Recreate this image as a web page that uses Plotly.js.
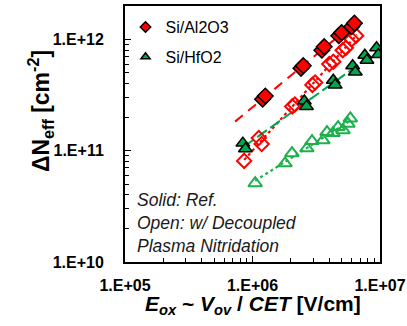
<!DOCTYPE html>
<html>
<head>
<meta charset="utf-8">
<script src="https://cdn.plot.ly/plotly-3.0.1.min.js"></script>
<style>html,body{margin:0;padding:0;background:#fff;}#chart{width:407px;height:326px;}</style>
</head>
<body>
<div id="chart"></div>
<script>
// ---- Data ----
const alSolidX = [1.20e6, 1.26e6, 2.40e6, 2.50e6, 3.50e6, 3.65e6, 4.75e6, 5.0e6, 6.0e6, 6.3e6];
const alSolidY = [2.9e11, 3.1e11, 5.5e11, 5.8e11, 8.0e11, 8.6e11, 1.08e12, 1.15e12, 1.30e12, 1.40e12];

const alOpenX = [8.6e5, 1.12e6, 1.18e6, 2.05e6, 2.15e6, 2.95e6, 3.1e6, 4.0e6, 4.3e6, 5.1e6, 5.4e6, 6.0e6, 6.5e6];
const alOpenY = [8.1e10, 1.30e11, 1.15e11, 2.5e11, 2.6e11, 3.9e11, 4.1e11, 6.0e11, 6.3e11, 8.0e11, 8.4e11, 1.0e12, 1.08e12];

const hfSolidX = [8.4e5, 8.8e5, 2.55e6, 2.65e6, 4.3e6, 4.45e6, 6.1e6, 6.4e6, 7.6e6, 7.9e6, 9.4e6, 9.7e6];
const hfSolidY = [1.17e11, 1.04e11, 2.8e11, 2.5e11, 4.3e11, 3.9e11, 5.8e11, 5.1e11, 7.2e11, 6.5e11, 8.4e11, 7.3e11];

const hfOpenX = [1.05e6, 1.80e6, 2.04e6, 2.67e6, 2.93e6, 3.57e6, 3.84e6, 4.28e6, 4.69e6, 5.13e6, 5.6e6, 5.85e6];
const hfOpenY = [5.1e10, 7.7e10, 9.5e10, 1.05e11, 1.22e11, 1.24e11, 1.47e11, 1.44e11, 1.63e11, 1.53e11, 1.75e11, 1.95e11];

// x-extent of each power-law trend line
const alSolidFitX = [7.3e5, 6.6e6];
const alOpenFitX = [8.6e5, 6.6e6];
const hfSolidFitX = [8.6e5, 7.5e6];
const hfOpenFitX = [1.05e6, 5.9e6];

const seriesNames = ['Si/Al2O3', 'Si/HfO2'];
const xTickVals = [1e5, 1e6, 1e7];
const xTickText = ['1.E+05', '1.E+06', '1.E+07'];
const yTickVals = [1e10, 1e11, 1e12];
const yTickText = ['1.E+10', '1.E+11', '1.E+12'];
const xTitle = '<b><i>E<sub>ox</sub></i> ~ <i>V<sub>ov</sub></i> / <i>CET</i> [V/cm]</b>';
const yTitle = '<b>ΔN<sub>eff</sub> [cm<sup>-2</sup>]</b>';
const noteText = 'Solid: Ref.<br>Open: w/ Decoupled<br>Plasma Nitridation';

// ---- power-law fit in log-log space ----
function fitLine(xs, ys, ext) {
  const lx = xs.map(Math.log10), ly = ys.map(Math.log10);
  const n = lx.length;
  const mx = lx.reduce((a, b) => a + b, 0) / n, my = ly.reduce((a, b) => a + b, 0) / n;
  let sxy = 0, sxx = 0;
  for (let i = 0; i < n; i++) { sxy += (lx[i] - mx) * (ly[i] - my); sxx += (lx[i] - mx) ** 2; }
  const b = sxy / sxx, a = my - b * mx;
  return { x: ext, y: ext.map(v => Math.pow(10, a + b * Math.log10(v))) };
}

const RED = '#FF0000', GREEN = '#00A650', GREEN_OPEN = '#1DB04B';
const FONT = 'Arial, "Liberation Sans", sans-serif';

const fA = fitLine(alSolidX, alSolidY, alSolidFitX);
const fAo = fitLine(alOpenX, alOpenY, alOpenFitX);
const fH = fitLine(hfSolidX, hfSolidY, hfSolidFitX);
const fHo = fitLine(hfOpenX, hfOpenY, hfOpenFitX);

const traces = [
  { x: fA.x, y: fA.y, mode: 'lines', line: { color: RED, width: 2, dash: '10px,7px' }, showlegend: false, hoverinfo: 'skip' },
  { x: fAo.x, y: fAo.y, mode: 'lines', line: { color: RED, width: 2.2, dash: 'dot' }, showlegend: false, hoverinfo: 'skip' },
  { x: fH.x, y: fH.y, mode: 'lines', line: { color: GREEN, width: 2, dash: '12px,4px' }, showlegend: false, hoverinfo: 'skip' },
  { x: fHo.x, y: fHo.y, mode: 'lines', line: { color: GREEN_OPEN, width: 2.2, dash: 'dot' }, showlegend: false, hoverinfo: 'skip' },
  { x: alOpenX, y: alOpenY, mode: 'markers', showlegend: false,
    marker: { symbol: 'diamond-open', size: 11, color: RED, line: { color: RED, width: 2 } } },
  { x: hfOpenX, y: hfOpenY, mode: 'markers', showlegend: false,
    marker: { symbol: 'triangle-up-open', size: 12, color: GREEN_OPEN, line: { color: GREEN_OPEN, width: 2 } } },
  { x: alSolidX, y: alSolidY, mode: 'markers', showlegend: false,
    marker: { symbol: 'diamond', size: 12, color: RED, line: { color: '#000', width: 1.5 } } },
  { x: hfSolidX, y: hfSolidY, mode: 'markers', showlegend: false,
    marker: { symbol: 'triangle-up', size: 12, color: GREEN, line: { color: '#000', width: 1.5 } } },
  // legend entries (smaller legend symbols, no plotted marks)
  { x: [null], y: [null], mode: 'markers', name: seriesNames[0], legendgroup: 'a',
    marker: { symbol: 'diamond', size: 8, color: RED, line: { color: '#000', width: 1.5 } } },
  { x: [null], y: [null], mode: 'markers', name: seriesNames[1], legendgroup: 'h',
    marker: { symbol: 'triangle-up', size: 8, color: GREEN, line: { color: '#000', width: 1.5 } } }
];

const layout = {
  width: 407, height: 326,
  margin: { l: 125, r: 27, t: 6, b: 64, pad: 0 },
  paper_bgcolor: '#fff', plot_bgcolor: '#fff',
  font: { family: FONT, color: '#000' },
  showlegend: true,
  legend: { x: 0.002, y: 0.984, xanchor: 'left', yanchor: 'top', bgcolor: 'rgba(0,0,0,0)',
    font: { size: 16, family: FONT }, tracegroupgap: 6, itemwidth: 30 },
  xaxis: {
    type: 'log', range: [5, 7],
    tickvals: xTickVals, ticktext: xTickText,
    ticks: 'inside', ticklen: 6, tickwidth: 1.2, tickcolor: '#000',
    minor: { ticks: 'inside', ticklen: 4, tickwidth: 1, tickcolor: '#000', dtick: 'D1' },
    showline: true, linecolor: '#000', linewidth: 2, mirror: true,
    showgrid: false, zeroline: false, ticklabelstandoff: 8,
    tickfont: { size: 16, family: FONT, weight: 'bold' }
  },
  yaxis: {
    type: 'log', range: [10, 12.3],
    tickvals: yTickVals, ticktext: yTickText,
    ticks: 'inside', ticklen: 6, tickwidth: 1.2, tickcolor: '#000',
    minor: { ticks: 'inside', ticklen: 4, tickwidth: 1, tickcolor: '#000', dtick: 'D1' },
    showline: true, linecolor: '#000', linewidth: 2, mirror: true,
    showgrid: false, zeroline: false, ticklabelstandoff: 16,
    tickfont: { size: 16, family: FONT, weight: 'bold' }
  },
  annotations: [
    { xref: 'paper', yref: 'paper', x: 0.04, y: 0.152, xanchor: 'left', yanchor: 'middle', align: 'left',
      text: '<i>' + noteText + '</i>', showarrow: false,
      font: { size: 17.5, family: FONT, color: '#1a1a1a' } },
    { xref: 'paper', yref: 'paper', x: 0.5, y: -0.168, xanchor: 'center', yanchor: 'middle',
      text: xTitle, showarrow: false, font: { size: 21, family: FONT, color: '#000' } },
    { xref: 'paper', yref: 'paper', x: -0.333, y: 0.59, xanchor: 'center', yanchor: 'middle', textangle: -90,
      text: yTitle, showarrow: false, font: { size: 23, family: FONT, color: '#000' } }
  ]
};

Plotly.newPlot('chart', traces, layout, { displayModeBar: false, staticPlot: true });
</script>
</body>
</html>
